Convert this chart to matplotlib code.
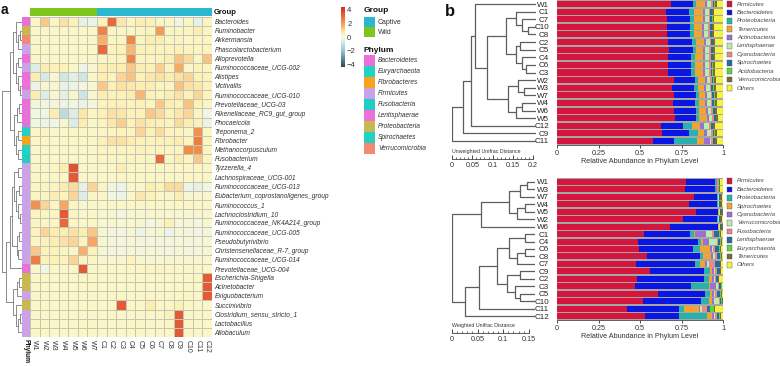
import matplotlib
matplotlib.use("Agg")
import matplotlib.pyplot as plt
import matplotlib.patches as mpatches
from matplotlib.colors import LinearSegmentedColormap, Normalize
from matplotlib.cm import ScalarMappable
import numpy as np

plt.rcParams["font.family"] = ["Liberation Sans", "DejaVu Sans"]

FIG_W, FIG_H = 780, 366
TXT = "#333333"
LINE = "#5e5e5e"

# ---------------- panel a data ----------------
GENERA = ["Bacteroides", "Ruminobacter", "Akkermansia", "Phascolarctobacterium",
          "Alloprevotella", "Ruminococcaceae_UCG-002", "Alistipes", "Victivallis",
          "Ruminococcaceae_UCG-010", "Prevotellaceae_UCG-03", "Rikenellaceae_RC9_gut_group",
          "Phocaeicola", "Treponema_2", "Fibrobacter", "Methanocorpusculum", "Fusobacterium",
          "Tyzzerella_4", "Lachnospiraceae_UCG-001", "Ruminococcaceae_UCG-013",
          "Eubacterium_coprostanoligenes_group", "Ruminococcus_1", "Lachnoclostridium_10",
          "Ruminococcaceae_NK4A214_group", "Ruminococcaceae_UCG-005", "Pseudobutyrivibrio",
          "Christensenellaceae_R-7_group", "Ruminococcaceae_UCG-014", "Prevotellaceae_UCG-004",
          "Escherichia-Shigella", "Acinetobacter", "Exiguobacterium", "Succinivibrio",
          "Clostridium_sensu_stricto_1", "Lactobacillus", "Allobaculum"]

SAMPLES = ["W1", "W2", "W3", "W4", "W5", "W6", "W7",
           "C1", "C2", "C3", "C4", "C5", "C6", "C7", "C8", "C9", "C10", "C11", "C12"]
SAMPLE_GROUP = ["Wild"] * 7 + ["Captive"] * 12

ROW_PHYLUM = ["Bacteroidetes", "Proteobacteria", "Verrucomicrobia", "Firmicutes",
              "Bacteroidetes", "Firmicutes", "Bacteroidetes", "Lentisphaerae",
              "Firmicutes", "Bacteroidetes", "Bacteroidetes", "Bacteroidetes",
              "Spirochaetes", "Fibrobacteres", "Euryarchaeota", "Fusobacteria",
              "Firmicutes", "Firmicutes", "Firmicutes", "Firmicutes", "Firmicutes",
              "Firmicutes", "Firmicutes", "Firmicutes", "Firmicutes", "Firmicutes",
              "Firmicutes", "Bacteroidetes", "Proteobacteria", "Proteobacteria",
              "Firmicutes", "Proteobacteria", "Firmicutes", "Firmicutes", "Firmicutes"]

HEAT = [
    [0.3, 1.2, 0.3, 0.8, 0.5, -0.4, -0.3, 0.5, 3.0, 0.7, 0.3, 0.6, 0.5, 0.3, 0.2, -0.2, 0.3, -0.4, 0.4],
    [0.2, 0.2, 0.2, 0.2, 0.2, 0.2, 0.2, 2.5, 0.3, 0.3, 0.3, 0.3, 0.4, 2.0, 0.3, 0.3, 0.3, 0.6, 0.3],
    [0.2, 0.2, 0.2, 0.2, 0.2, 0.2, 0.2, 1.6, 0.3, 0.3, 2.4, 0.3, 0.6, 0.6, 0.3, 0.3, 0.2, 0.3, 0.3],
    [0.2, 0.2, 0.2, 0.2, 0.2, 0.2, 0.2, 3.0, 0.4, 0.5, 1.5, 0.5, 0.5, 0.4, 0.4, 0.5, 0.4, 0.3, 0.4],
    [0.2, 0.2, 0.2, 0.2, 0.2, 0.2, 0.2, 0.3, 0.3, 0.4, 2.4, 0.3, 0.4, 0.4, 0.6, 1.3, 0.9, 0.3, 1.3],
    [-0.6, 0.6, 0.5, 0.5, 0.2, -0.3, 0.1, 0.6, 0.6, 0.6, 1.2, 0.6, 0.5, 1.1, 0.4, 1.7, 0.2, 0.5, 0.3],
    [0.6, -0.7, 0.1, -0.8, -0.5, -0.8, 0.2, 0.6, 0.4, 1.0, 1.3, 0.5, 0.7, 0.8, 0.6, 0.8, 1.0, 0.5, 0.4],
    [-0.3, 0.1, 0.1, -0.4, -0.3, -0.2, 0.1, 1.2, 0.5, 0.8, 0.7, 0.6, 0.6, 0.4, 0.3, 1.3, 0.8, 0.7, 0.5],
    [0.6, -0.6, 0.1, -0.5, 0.1, -0.9, 0.1, 0.6, 0.5, 0.5, 0.6, 1.5, 0.5, 0.4, 0.6, 0.8, 0.5, 1.0, 0.4],
    [-0.1, -0.2, -0.1, -0.3, -0.2, -0.3, -0.1, 0.4, 0.5, 0.5, 0.4, 0.5, 0.3, 1.2, 0.6, 0.5, 1.3, 0.5, 0.3],
    [-0.2, -0.2, 0.6, -1.2, -0.6, 0.7, 0.3, 0.5, 0.8, 0.7, 0.5, 0.5, 1.2, 0.9, 0.5, 0.7, 1.0, 0.3, -0.2],
    [-0.2, -0.3, -0.2, 0.1, -0.6, 0.6, 0.2, 0.4, 0.7, 1.1, 0.5, 0.8, 0.6, 0.5, 0.4, 0.9, 0.6, 0.5, -0.3],
    [0.2, 0.3, 0.2, 0.2, 0.3, 0.2, 0.2, 0.3, 0.3, 0.4, 0.3, 1.0, 0.5, 0.9, 0.4, 0.4, 0.3, 2.2, 0.3],
    [0.2, 0.2, 0.2, 0.2, 0.2, 0.2, 0.2, 0.5, 0.8, 0.8, 0.6, 0.5, 0.4, 0.5, 0.5, 0.6, 0.4, 2.6, 0.4],
    [0.2, 0.2, 0.2, 0.2, 0.2, 0.2, 0.2, 0.3, 0.3, 0.4, 0.3, 0.5, 0.3, 0.4, 0.3, 0.4, 2.3, 2.3, 0.3],
    [0.2, 0.2, 0.2, 0.2, 0.2, 0.2, 0.2, 0.3, 0.3, 0.3, 0.4, 0.3, 0.3, 3.0, 0.3, 0.6, 0.3, 1.2, 0.3],
    [0.2, 0.2, 0.2, 0.6, 3.5, 0.2, 0.2, 0.2, 0.2, 0.6, 0.2, 0.2, 0.2, 0.2, 0.2, 0.2, 0.2, 0.2, 0.2],
    [0.2, 0.2, 0.2, 0.2, 3.3, 0.2, 0.2, 0.2, 0.2, 0.2, 0.2, 0.2, 0.2, 0.2, 0.2, 0.2, 0.2, 0.2, 0.2],
    [0.2, 0.3, 0.4, 0.6, 0.9, -0.4, 1.0, 0.3, -0.2, -0.3, 0.2, 0.2, 0.6, 0.4, 0.9, 0.9, -0.3, -0.4, -0.2],
    [0.3, 0.3, 0.6, 0.4, 1.0, -0.6, 0.3, 0.2, -0.2, -0.3, 0.2, 0.7, 0.5, 0.2, 0.2, 0.6, 0.1, 0.1, 0.1],
    [2.2, 1.0, 0.3, 1.8, 0.3, 0.1, 0.2, 0.2, 0.2, 0.2, 0.2, 0.2, 0.2, 0.2, 0.2, 0.2, 0.2, 0.2, 0.2],
    [0.3, 0.3, 0.3, 3.3, 0.3, 0.1, 0.2, 0.1, 0.1, -0.2, 0.1, 0.1, 0.1, 0.1, 0.1, 0.1, 0.1, 0.1, 0.1],
    [0.3, 0.3, 0.3, 3.0, 0.3, 0.2, 0.2, 0.1, 0.1, 0.0, 0.1, 0.1, -0.2, 0.1, 0.5, -0.1, 0.0, -0.2, 0.1],
    [0.4, 1.0, 0.6, 0.6, 0.8, 0.6, 1.2, 0.0, -0.1, -0.2, 0.0, -0.3, 0.0, 0.0, -0.3, 0.0, -0.1, -0.2, -0.1],
    [0.3, 0.5, 0.6, 0.8, 1.0, 0.4, 1.8, 0.0, -0.1, -0.1, 0.0, -0.1, -0.1, -0.1, -0.1, -0.1, -0.1, -0.1, 0.0],
    [1.2, 0.5, 0.5, 0.3, 0.3, 1.6, 0.5, 0.0, -0.1, -0.1, 0.0, -0.1, 0.0, -0.1, -0.1, 0.0, -0.1, -0.1, 0.0],
    [2.6, 0.5, 0.5, 0.4, 1.0, 0.3, 0.3, 0.1, 0.1, 0.1, 0.4, 0.1, 0.1, 0.1, 0.1, 0.1, 0.1, 0.1, 0.1],
    [0.2, -0.2, 0.2, 0.2, 0.2, 3.3, 0.2, 0.2, 0.2, 0.2, 0.2, 0.2, 0.3, 0.3, 0.2, 0.2, 0.2, 0.2, 0.2],
    [0.2, 0.2, 0.2, 0.2, 0.2, 0.2, 0.2, 0.2, 0.2, 0.2, 0.2, 0.2, 0.2, 0.2, 0.2, 0.2, 0.2, 0.2, 3.3],
    [0.2, 0.2, 0.2, 0.2, 0.2, 0.2, 0.2, 0.2, 0.2, 0.2, 0.2, 0.2, 0.2, 0.2, 0.2, 0.2, 0.2, 0.2, 3.3],
    [0.2, 0.2, 0.2, 0.2, 0.2, 0.2, 0.2, 0.2, 0.2, 0.2, 0.2, 0.2, 0.2, 0.2, 0.2, 0.2, 0.2, 0.2, 3.3],
    [0.2, 0.2, 0.2, 0.2, 0.2, 0.2, 0.2, 0.2, 0.2, 3.3, 0.2, 0.2, 0.6, 0.2, 0.2, 0.5, 0.2, 0.2, 0.2],
    [0.2, 0.2, 0.2, 0.2, 0.2, 0.2, 0.2, 0.2, 0.2, 0.2, 0.2, 0.2, 0.2, 0.2, 0.5, 3.3, 0.2, 0.2, 0.2],
    [0.2, 0.2, 0.2, 0.2, 0.2, 0.2, 0.2, 0.2, 0.2, 0.2, 0.2, 0.2, 0.2, 0.2, 0.2, 3.3, 0.2, 0.2, 0.2],
    [0.2, 0.2, 0.2, 0.2, 0.2, 0.2, 0.2, 0.2, 0.2, 0.2, 0.2, 0.2, 0.2, 0.2, 0.2, 3.3, 0.2, 0.2, 0.2],
]

# row clustering (left, right, height); leaves are row indices
ROW_TREE = (
    ((((0, ((1, 2, .12), 3, .22), .32), (((4, 5, .18), (6, (7, 8, .12), .2), .3)), .45),
      (((9, 10, .15), 11, .24), ((12, 13, .18), (14, 15, .2), .3), .42), .6),
     ((((((16, 17, .2), (((18, 19, .15), (20, (21, 22, .12), .2), .3)), .4),
          (((23, 24, .15), (25, 26, .18), .26)), .5), 27, .62),
       ((((28, 29, .15), 30, .25)), (31, ((32, 33, .1), 34, .18), .3), .45), .8)), 1.0)
)

GROUP_COLORS = {"Captive": "#2bb6d2", "Wild": "#7cc61f"}
PHYLUM_NAMES = ["Bacteroidetes", "Euryarchaeota", "Fibrobacteres", "Firmicutes",
                "Fusobacteria", "Lentisphaerae", "Proteobacteria", "Spirochaetes",
                "Verrucomicrobia"]
PHYLUM_COLORS = ["#e870d8", "#22d2c2", "#f5a41c", "#c9a2e8", "#20cfc0",
                 "#ea72da", "#c8b850", "#24d0c2", "#f08a74"]

# ---------------- panel b data ----------------
BAR_COLORS = ["#d4163e", "#0a16e4", "#27b2ad", "#f2a431", "#9c70d2", "#b6eeae",
              "#f08585", "#1f6f9a", "#62d144", "#7a6b2c", "#f6f33f"]

U_ORDER = ["W1", "C1", "C7", "C10", "C8", "C2", "C5", "C4", "C6", "C3",
           "W2", "W3", "W7", "W4", "W6", "W5", "C12", "C9", "C11"]
U_PHYLA = ["Firmicutes", "Bacteroidetes", "Proteobacteria", "Tenericutes", "Actinobacteria",
           "Lentisphaerae", "Cyanobacteria", "Spirochaetes", "Acidobacteria",
           "Verrucomicrobia", "Others"]
U_FIRM = [.686, .659, .665, .661, .661, .669, .675, .671, .669, .667, .702, .690, .706, .696, .702, .710, .629, .635, .578]
U_BACT = [.131, .138, .138, .138, .138, .144, .142, .136, .136, .138, .130, .138, .132, .138, .136, .128, .128, .162, .128]
U_PROT = [.021, .027, .025, .025, .026, .022, .020, .024, .025, .025, .018, .020, .018, .020, .018, .020, .054, .051, .136]
U_TENE = [.054, .054, .050, .052, .050, .048, .045, .050, .050, .050, .040, .040, .038, .040, .042, .045, .053, .040, .046]
U_ACTI = [.012, .012, .012, .012, .012, .012, .012, .012, .012, .012, .012, .012, .012, .012, .012, .012, .024, .016, .031]
U_LENT = [.024, .023, .024, .024, .024, .024, .024, .024, .024, .024, .020, .020, .020, .020, .020, .020, .030, .024, .011]
U_CYAN = [.010, .010, .010, .010, .010, .010, .010, .010, .010, .010, .010, .010, .010, .010, .010, .010, .010, .010, .010]
U_SPIR = [.010, .010, .010, .010, .010, .010, .010, .010, .010, .010, .010, .010, .010, .010, .010, .010, .010, .010, .010]
U_ACID = [.003, .003, .003, .003, .003, .003, .003, .003, .003, .003, .003, .003, .003, .003, .003, .003, .003, .003, .003]
U_VERR = [.010, .010, .010, .010, .010, .010, .010, .010, .010, .010, .012, .012, .012, .012, .012, .012, .010, .010, .010]
U_OTHR = [.039, .054, .053, .055, .056, .048, .049, .050, .051, .051, .043, .045, .039, .039, .035, .030, .049, .039, .037]
U_TREE = ((((("W1", ((("C1", ("C7", ("C10", "C8", .02), .035), .05),
                      (("C2", "C5", .04), ("C4", ("C6", "C3", .025), .035), .05), .075),
                     (("W2", ("W3", "W7", .03), .045), (("W4", "W6", .035), "W5", .05), .07), .12), .15),
             "C12", .16), "C9", .18), "C11", .207))

W_ORDER = ["W1", "W3", "W7", "W4", "W5", "W2", "W6", "C1", "C4", "C6",
           "C8", "C7", "C9", "C2", "C3", "C5", "C10", "C11", "C12"]
W_PHYLA = ["Firmicutes", "Bacteroidetes", "Proteobacteria", "Spirochaetes", "Cyanobacteria",
           "Verrucomicrobia", "Fusobacteria", "Lentisphaerae", "Euryarchaeota",
           "Tenericutes", "Others"]
W_FIRM = [.777, .773, .823, .793, .837, .757, .683, .522, .488, .496, .542, .476, .558, .482, .468, .606, .516, .422, .528]
W_BACT = [.177, .181, .141, .171, .131, .207, .285, .277, .359, .323, .321, .357, .326, .402, .341, .288, .353, .311, .205]
W_PROT = [.004, .004, .004, .004, .004, .004, .004, .024, .022, .040, .015, .030, .040, .030, .105, .026, .045, .034, .171]
W_SPIR = [.002, .002, .002, .002, .002, .002, .002, .010, .008, .061, .050, .031, .010, .020, .010, .014, .020, .086, .030]
W_CYAN = [.002, .002, .002, .002, .002, .002, .002, .065, .037, .012, .010, .010, .010, .010, .035, .010, .010, .010, .010]
W_VERR = [.003, .003, .003, .003, .003, .003, .003, .036, .050, .010, .015, .010, .010, .008, .012, .010, .030, .010, .010]
W_FUSO = [.002, .002, .002, .002, .002, .002, .002, .010, .008, .010, .008, .040, .012, .006, .006, .008, .006, .031, .008]
W_LENT = [.004, .004, .004, .004, .004, .004, .004, .030, .012, .025, .020, .025, .015, .010, .012, .020, .010, .020, .015]
W_EURY = [.002, .002, .002, .002, .002, .002, .002, .005, .003, .005, .005, .005, .003, .003, .003, .005, .003, .020, .004]
W_TENE = [.010, .010, .010, .010, .010, .010, .010, .010, .006, .008, .006, .006, .006, .006, .004, .006, .004, .010, .006]
W_OTHR = [.017, .017, .007, .007, .003, .007, .003, .011, .007, .010, .008, .010, .010, .023, .004, .007, .003, .046, .013]
W_TREE = (((((("W1", "W3", .015), "W7", .03), (("W4", "W5", .02), "W2", .035), .05), "W6", .105),
           (((((("C1", "C4", .02), (("C6", "C8", .02), "C7", .035), .05),
                (("C9", "C2", .03), ("C3", ("C5", "C10", .03), .04), .055), .075), "C11", .11),
             "C12", .137)), .162))


def box(x0, y0, x1, y1):
    return [x0 / FIG_W, 1 - y1 / FIG_H, (x1 - x0) / FIG_W, (y1 - y0) / FIG_H]


def draw_tree(ax, node, pos, lw=0.6):
    if not isinstance(node, tuple):
        return pos[node], 0.0
    left, right, h = node
    yl, hl = draw_tree(ax, left, pos, lw)
    yr, hr = draw_tree(ax, right, pos, lw)
    ax.plot([hl, h, h, hr], [yl, yl, yr, yr], color=LINE, lw=lw, solid_capstyle="butt")
    return (yl + yr) / 2, h


fig = plt.figure(figsize=(FIG_W / 100, FIG_H / 100), dpi=100, facecolor="white")

# ── a: heatmap ──
cmap = LinearSegmentedColormap.from_list("hm", [
    (0.0, "#29494c"), (0.27, "#93c6d6"), (0.47, "#eef5ea"), (0.52, "#fbf6c9"),
    (0.56, "#fcf1b8"), (0.73, "#f59a52"), (1.0, "#d42a20")])
norm = Normalize(vmin=-4.35, vmax=4.35)

nrow, ncol = len(GENERA), len(SAMPLES)
ax = fig.add_axes(box(30, 17, 212, 337))
ax.pcolormesh(np.array(HEAT), cmap=cmap, norm=norm, edgecolors="#c6c6b0", linewidth=0.45)
ax.set_xlim(0, ncol)
ax.set_ylim(nrow, 0)
for s in ax.spines.values():
    s.set_visible(False)
ax.yaxis.tick_right()
ax.set_yticks(np.arange(nrow) + 0.5)
ax.set_yticklabels(GENERA, fontsize=4.8, style="italic", color=TXT)
ax.set_xticks(np.arange(ncol) + 0.5)
ax.set_xticklabels(SAMPLES, fontsize=5, rotation=270, color=TXT)
ax.tick_params(length=0, pad=2)

# phylum strip
axp = fig.add_axes(box(22, 17, 30, 337))
pcol = [PHYLUM_COLORS[PHYLUM_NAMES.index(p)] for p in ROW_PHYLUM]
axp.barh(np.arange(nrow), 1, height=1, color=pcol, left=0)
axp.set_xlim(0, 1)
axp.set_ylim(nrow - 0.5, -0.5)
for s in axp.spines.values():
    s.set_visible(False)
axp.set_yticks([])
axp.set_xticks([0.5])
axp.set_xticklabels(["Phylum"], fontsize=4.8, rotation=270, fontweight="bold", color="#111")
axp.tick_params(length=0, pad=1.5)

# group bar
axg = fig.add_axes(box(30, 8, 212, 16))
axg.bar(np.arange(ncol), 1, width=1, align="edge",
        color=[GROUP_COLORS[g] for g in SAMPLE_GROUP])
axg.set_xlim(0, ncol)
axg.set_ylim(0, 1)
axg.axis("off")
axg.text(1.01, 0.4, "Group", transform=axg.transAxes, fontsize=5.5,
         fontweight="bold", va="center", color="#111")

# row dendrogram
axd = fig.add_axes(box(2, 17, 22, 337))
draw_tree(axd, ROW_TREE, {i: i for i in range(nrow)}, lw=0.5)
axd.set_ylim(nrow - 0.5, -0.5)
axd.set_xlim(1.0, 0)
axd.axis("off")

# colour scale
cax = fig.add_axes(box(341, 7, 345, 67))
cb = fig.colorbar(ScalarMappable(norm=norm, cmap=cmap), cax=cax, ticks=[-4, -2, 0, 2, 4])
cb.outline.set_visible(False)
cax.tick_params(length=0, labelsize=5.5, pad=1.5, labelcolor=TXT)

# overlay for legends / panel letters in pixel units
ov = fig.add_axes([0, 0, 1, 1])
ov.set_xlim(0, FIG_W)
ov.set_ylim(FIG_H, 0)
ov.axis("off")
ov.text(1, 10, "a", fontsize=10, fontweight="bold", va="center", color="#111")
ov.text(445, 12, "b", fontsize=12, fontweight="bold", va="center", color="#111")

ov.text(364, 11, "Group", fontsize=6, fontweight="bold", va="center", color="#111")
for i, g in enumerate(["Captive", "Wild"]):
    y0 = 17 + i * 10
    ov.add_patch(mpatches.Rectangle((364, y0), 11, 10, facecolor=GROUP_COLORS[g], edgecolor="none"))
    ov.text(378, y0 + 5, g, fontsize=5, va="center", color=TXT)
ov.text(364, 50, "Phylum", fontsize=6, fontweight="bold", va="center", color="#111")
for i, (p, c) in enumerate(zip(PHYLUM_NAMES, PHYLUM_COLORS)):
    y0 = 55 + i * 11
    ov.add_patch(mpatches.Rectangle((364, y0), 11, 11, facecolor=c, edgecolor="none"))
    ov.text(378, y0 + 5.5, p, fontsize=4.8, style="italic", va="center", color=TXT)


# ── b: dendrogram + stacked bars ──
def bar_panel(order, series, phyla, tree, root_h, y_top, y_bot, dend_right,
              ruler_y, ruler_max, ruler_title, legend_y):
    n = len(order)
    axb = fig.add_axes(box(557, y_top, 723, y_bot))
    axb.set_facecolor("#a6a6a6")
    left = np.zeros(n)
    for vals, col in zip(series, BAR_COLORS):
        axb.barh(np.arange(n), vals, left=left, height=0.8, color=col, linewidth=0)
        left = left + np.array(vals)
    axb.set_xlim(0, 1)
    axb.set_ylim(n - 0.5, -0.5)
    for k in ["top", "right", "left"]:
        axb.spines[k].set_visible(False)
    axb.spines["bottom"].set_color("#444")
    axb.spines["bottom"].set_linewidth(0.6)
    axb.set_yticks(np.arange(n))
    axb.set_yticklabels(order, fontsize=5.8, color="#222")
    axb.tick_params(axis="y", length=0, pad=5.8)
    axb.set_xticks([0, 0.25, 0.5, 0.75, 1])
    axb.set_xticklabels(["0", "0.25", "0.5", "0.75", "1"])
    axb.tick_params(axis="x", length=2, width=0.5, labelsize=5.2, pad=1.5, labelcolor=TXT)
    axb.set_xlabel("Relative Abundance in Phylum Level", fontsize=5.2, labelpad=1, color=TXT)

    axt = fig.add_axes(box(452, y_top, dend_right, y_bot))
    draw_tree(axt, tree, {s: i for i, s in enumerate(order)}, lw=0.9)
    axt.set_ylim(n - 0.5, -0.5)
    axt.set_xlim(root_h, 0)
    axt.axis("off")

    axr = fig.add_axes(box(452, ruler_y - 0.5, 452 + (dend_right - 452) * ruler_max / root_h, ruler_y))
    axr.set_xlim(0, ruler_max)
    axr.set_xticks(np.arange(0, ruler_max + 1e-9, 0.05))
    axr.set_xticks(np.arange(0, ruler_max + 1e-9, 0.01), minor=True)
    axr.set_xticklabels([f"{t:g}" for t in np.arange(0, ruler_max + 1e-9, 0.05)])
    axr.set_yticks([])
    for k in ["top", "right", "left"]:
        axr.spines[k].set_visible(False)
    axr.spines["bottom"].set_linewidth(0.6)
    axr.spines["bottom"].set_color("#444")
    axr.tick_params(axis="x", which="major", direction="in", length=3, width=0.5,
                    labelsize=5.2, pad=2.5, labelcolor=TXT)
    axr.tick_params(axis="x", which="minor", direction="in", length=1.6, width=0.4)
    ov.text(452, ruler_y - 7, ruler_title, fontsize=3.8, va="center", color=TXT)

    for i, (p, c) in enumerate(zip(phyla, BAR_COLORS)):
        yc = legend_y + i * 8.4
        ov.add_patch(mpatches.Rectangle((727, yc - 2.8), 5.2, 5.6, facecolor=c,
                                        edgecolor="#555", linewidth=0.3))
        ov.text(737, yc, p, fontsize=4.3, style="italic", va="center", color="#444")


bar_panel(U_ORDER, [U_FIRM, U_BACT, U_PROT, U_TENE, U_ACTI, U_LENT, U_CYAN, U_SPIR,
                    U_ACID, U_VERR, U_OTHR], U_PHYLA, U_TREE, 0.207, 0.2, 144.8, 536,
          159, 0.2, "Unweighted Unifrac Distance", 4)
bar_panel(W_ORDER, [W_FIRM, W_BACT, W_PROT, W_SPIR, W_CYAN, W_VERR, W_FUSO, W_LENT,
                    W_EURY, W_TENE, W_OTHR], W_PHYLA, W_TREE, 0.162, 177.8, 320.2, 535,
          333, 0.15, "Weighted Unifrac Distance", 181)

fig.savefig("out.png", dpi=100, facecolor="white")
